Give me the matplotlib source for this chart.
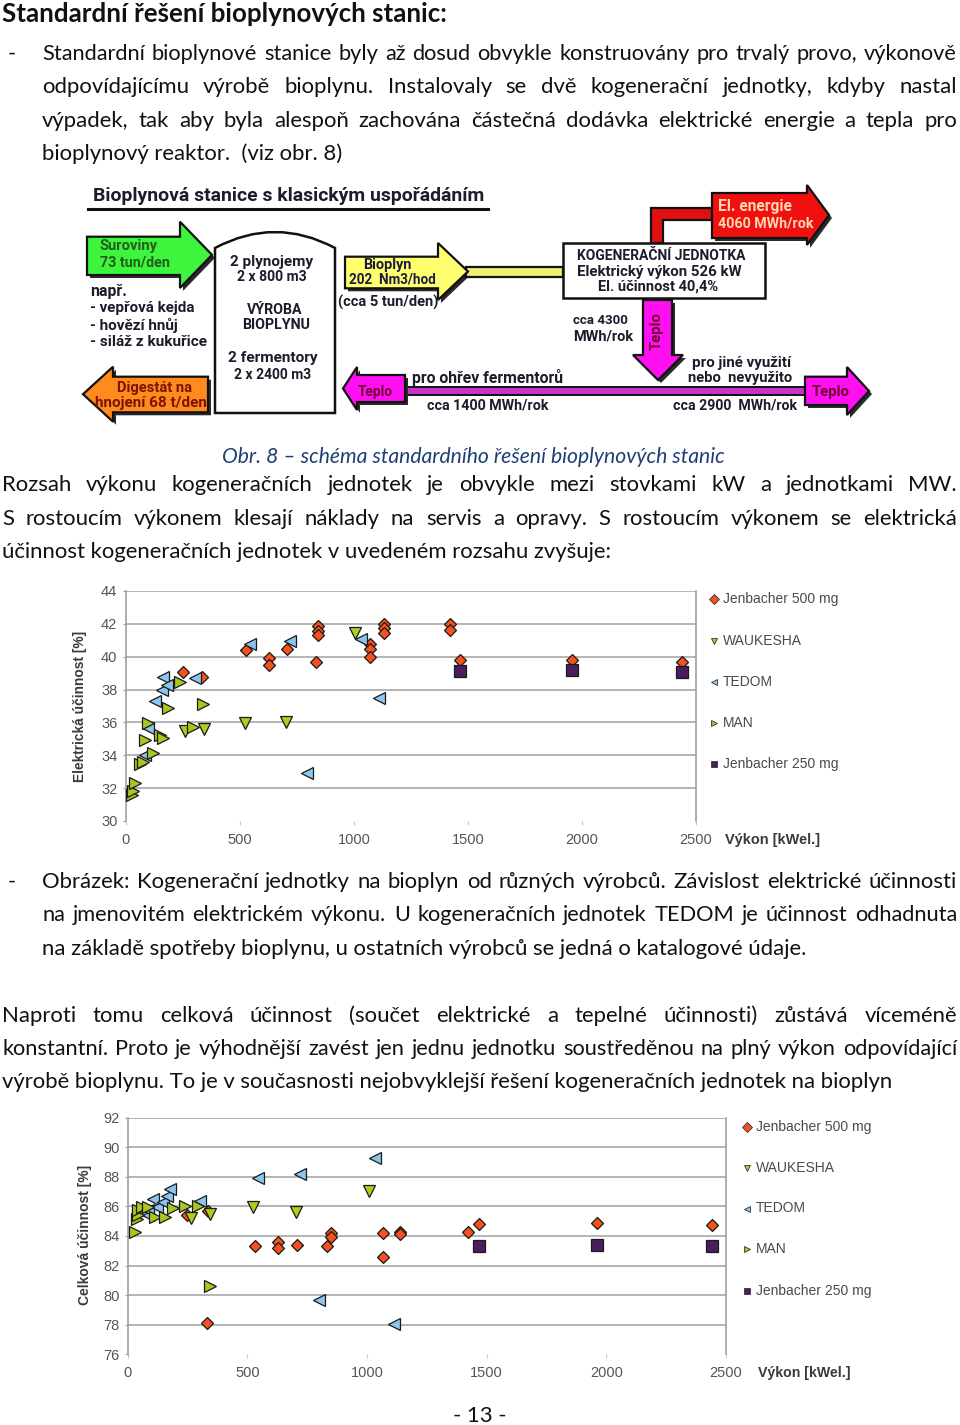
import matplotlib
matplotlib.use('Agg')
import matplotlib.pyplot as plt
from matplotlib.patches import Polygon, Rectangle, PathPatch
from matplotlib.path import Path

# ---- data: electrical efficiency [%] vs. power [kWel] ----
series_names = ['Jenbacher 500 mg', 'WAUKESHA', 'TEDOM', 'MAN', 'Jenbacher 250 mg']

j500_el_kw = [253, 334, 527, 627, 627, 705, 836, 843, 843, 843, 1070, 1070, 1070,
              1133, 1133, 1133, 1420, 1420, 1464, 1955, 2437]
j500_el = [39.1, 38.75, 40.4, 39.95, 39.5, 40.5, 39.7, 41.85, 41.55, 41.3, 40.8, 40.45, 40.0,
           42.0, 41.75, 41.45, 42.0, 41.65, 39.8, 39.8, 39.7]
wauk_el_kw = [259, 342, 522, 702, 1004]
wauk_el = [35.45, 35.6, 35.95, 36.05, 41.45]
tedom_el_kw = [85, 99, 129, 158, 165, 180, 304, 546, 722, 795, 1030, 1110]
tedom_el = [34.0, 35.64, 37.3, 37.97, 38.78, 38.28, 38.69, 40.8, 40.98, 32.9, 41.08, 37.47]
man_el_kw = [26, 33, 41, 63, 77, 85, 99, 121, 151, 165, 187, 239, 297, 341]
man_el = [31.6, 31.8, 32.3, 33.5, 33.6, 34.93, 35.95, 34.12, 35.23, 35.03, 36.9, 38.48, 35.7, 37.1]
j250_el_kw = [1464, 1955, 2437]
j250_el = [39.15, 39.2, 39.05]

# ---- data: total efficiency [%] vs. power [kWel] ----
j500_tot_kw = [247, 331, 334, 530, 628, 628, 708, 833, 849, 849, 1067, 1067, 1139, 1139,
               1423, 1467, 1962, 2441]
j500_tot = [85.4, 78.1, 85.7, 83.3, 83.6, 83.2, 83.4, 83.3, 84.2, 83.95, 84.2, 82.55, 84.3, 84.15,
            84.3, 84.8, 84.85, 84.75]
wauk_tot_kw = [264, 342, 523, 703, 1007]
wauk_tot = [85.2, 85.5, 85.98, 85.6, 87.05]
tedom_tot_kw = [86, 86, 107, 121, 149, 163, 177, 302, 543, 721, 798, 1032, 1111]
tedom_tot = [85.42, 85.76, 86.5, 85.98, 86.32, 86.7, 87.2, 86.4, 87.94, 88.17, 79.67, 89.3, 78.05]
man_tot_kw = [31, 40, 44, 44, 59, 86, 114, 156, 191, 240, 295, 344]
man_tot = [84.25, 85.15, 85.42, 85.76, 85.98, 85.98, 85.3, 85.3, 85.87, 86.05, 86.05, 80.62]
j250_tot_kw = [1467, 1962, 2441]
j250_tot = [83.35, 83.4, 83.35]

x_ticks = [0, 500, 1000, 1500, 2000, 2500]
el_ticks = [30, 32, 34, 36, 38, 40, 42, 44]
tot_ticks = [76, 78, 80, 82, 84, 86, 88, 90, 92]

styles = {
    'Jenbacher 500 mg': dict(marker='D', mfc='#f5501e', ms=6.6),
    'WAUKESHA': dict(marker='v', mfc='#b0cc1c', ms=9),
    'TEDOM': dict(marker='<', mfc='#8cc6ee', ms=9),
    'MAN': dict(marker='>', mfc='#a8c820', ms=9),
    'Jenbacher 250 mg': dict(marker='s', mfc='#4a1e5e', ms=8.5),
}

W, H = 960, 1425
fig = plt.figure(figsize=(W / 100, H / 100), dpi=100)
bg = fig.add_axes([0, 0, 1, 1])
bg.set_xlim(0, W)
bg.set_ylim(H, 0)
bg.axis('off')
renderer = fig.canvas.get_renderer()

BODY_FONT = ['Lato', 'DejaVu Sans']
DIA_FONT = ['Roboto', 'DejaVu Sans']
CH_FONT = ['Liberation Sans', 'DejaVu Sans']


def measure(s, size, **kw):
    t = bg.text(0, 0, s, fontsize=size, **kw)
    w = t.get_window_extent(renderer).width
    t.remove()
    return w


def fit(s, x0, x1, y, ha='left', **kw):
    size = 10 * (x1 - x0) / measure(s, 10, **kw)
    x = {'left': x0, 'center': (x0 + x1) / 2, 'right': x1}[ha]
    bg.text(x, y, s, fontsize=size, ha=ha, va='center', **kw)
    return size


def justify(s, x0, x1, y, size, **kw):
    nat = measure(s, size, **kw)
    if nat > (x1 - x0) * 0.985:
        size = size * (x1 - x0) * 0.985 / nat
    words = s.split()
    ws = [measure(w, size, **kw) for w in words]
    gap = (x1 - x0 - sum(ws)) / (len(words) - 1)
    x = x0
    for w, wd in zip(words, ws):
        bg.text(x, y, w, fontsize=size, va='center', **kw)
        x += wd + gap


# ---------------- body text ----------------
body_kw = dict(family=BODY_FONT, color='#111111')
fit('Standardní řešení bioplynových stanic:', 2, 447, 14, weight='bold', **body_kw)
bsize = 10 * 764 / measure('na základě spotřeby bioplynu, u ostatních výrobců se jedná o katalogové údaje.', 10, **body_kw)

body_lines = [
    ("Standardní bioplynové stanice byly až dosud obvykle konstruovány pro trvalý provo, výkonově", 42, 957, 54, True),
    ("odpovídajícímu výrobě bioplynu. Instalovaly se dvě kogenerační jednotky, kdyby nastal", 42, 957, 87, True),
    ("výpadek, tak aby byla alespoň zachována částečná dodávka elektrické energie a tepla pro", 42, 957, 121, True),
    ("bioplynový reaktor.  (viz obr. 8)", 42, 343, 154, False),
    ("Rozsah výkonu kogeneračních jednotek je obvykle mezi stovkami kW a jednotkami MW.", 2, 957, 485, True),
    ("S rostoucím výkonem klesají náklady na servis a opravy. S rostoucím výkonem se elektrická", 2, 957, 519, True),
    ("účinnost kogeneračních jednotek v uvedeném rozsahu zvyšuje:", 2, 609, 552, False),
    ("Obrázek: Kogenerační jednotky na bioplyn od různých výrobců. Závislost elektrické účinnosti", 42, 957, 882, True),
    ("na jmenovitém elektrickém výkonu. U kogeneračních jednotek TEDOM je účinnost odhadnuta", 42, 957, 915, True),
    ("na základě spotřeby bioplynu, u ostatních výrobců se jedná o katalogové údaje.", 42, 806, 949, False),
    ("Naproti tomu celková účinnost (součet elektrické a tepelné účinnosti) zůstává víceméně", 2, 957, 1016, True),
    ("konstantní. Proto je výhodnější zavést jen jednu jednotku soustředěnou na plný výkon odpovídající", 2, 957, 1049, True),
    ("výrobě bioplynu. To je v současnosti nejobvyklejší řešení kogeneračních jednotek na bioplyn", 2, 890, 1082, False),
]
for s, x0, x1, y, just in body_lines:
    if just:
        justify(s, x0, x1, y, bsize, **body_kw)
    else:
        bg.text(x0, y, s, fontsize=bsize, va='center', **body_kw)
for y in (54, 882):
    bg.text(8, y, '-', fontsize=bsize, va='center', **body_kw)
fit('Obr. 8 – schéma standardního řešení bioplynových stanic', 222, 724, 457,
    style='italic', family=BODY_FONT, color='#1f3f73')
bg.text(480, 1416, '- 13 -', fontsize=bsize, ha='center', va='center', **body_kw)

# ---------------- diagram ----------------
def shape(pts, fc, shadow=True):
    if shadow:
        bg.add_patch(Polygon([(x + 3, y + 3) for x, y in pts], closed=True,
                             fc='#2a2a2a', ec='none', zorder=2))
    bg.add_patch(Polygon(pts, closed=True, fc=fc, ec='#111111', lw=1.6, zorder=3))


def harrow(xb, xh, xt, yb0, yb1, yh0, yh1, fc):
    ym = (yh0 + yh1) / 2
    shape([(xb, yb0), (xh, yb0), (xh, yh0), (xt, ym), (xh, yh1), (xh, yb1), (xb, yb1)], fc)


dk = dict(family=DIA_FONT, weight='bold', zorder=5)
txt = '#1c1c2c'

fit('Bioplynová stanice s klasickým uspořádáním', 93, 485, 196, color=txt, **dk)
bg.plot([88, 488], [209, 209], color='#111111', lw=2.2, zorder=4)

harrow(87, 180, 212, 236.7, 275, 221.7, 288, '#3cf53c')
fit('Suroviny', 100, 158, 245.5, color='#245c1c', **dk)
fit('73 tun/den', 100, 170, 262, color='#245c1c', **dk)
for s, x1, y in [('např.', 127, 291.5), ('- vepřová kejda', 195, 307.5),
                 ('- hovězí hnůj', 178, 325), ('- siláž z kukuřice', 207, 341.5)]:
    fit(s, 90, x1, y, color=txt, **dk)

harrow(208, 113, 83, 376.7, 412.3, 366.7, 421.7, '#ff8a1e')
fit('Digestát na', 117, 193, 388, color='#7a1400', **dk)
fit('hnojení 68 t/den', 95, 207, 403, color='#7a1400', **dk)

# tank
tank = Path([(215, 413), (215, 248), (275, 216), (335, 248), (335, 413), (215, 413)],
            [Path.MOVETO, Path.LINETO, Path.CURVE3, Path.CURVE3, Path.LINETO, Path.CLOSEPOLY])
bg.add_patch(PathPatch(tank, fc='white', ec='#111111', lw=1.8, zorder=3))
for s, x0, x1, y in [('2 plynojemy', 230, 313, 262), ('2 x 800 m3', 237, 307, 277),
                     ('VÝROBA', 247, 302, 310), ('BIOPLYNU', 243, 310, 325),
                     ('2 fermentory', 228, 318, 358), ('2 x 2400 m3', 234, 311, 375)]:
    fit(s, x0, x1, y, ha='center', color=txt, **dk)

harrow(345, 438, 468, 256.7, 288.3, 243, 300, '#ffff70')
fit('Bioplyn', 363, 412, 265, ha='center', color='#1c1c40', **dk)
fit('202  Nm3/hod', 349, 436, 279.5, ha='center', color='#1c1c40', **dk)
fit('(cca 5 tun/den)', 338, 438, 302, color=txt, **dk)
bg.add_patch(Rectangle((466, 266.5), 97, 10, fc='#f0f070', ec='#111111', lw=1.6, zorder=2))

# cogeneration unit
bg.add_patch(Rectangle((563, 243), 202, 54.7, fc='white', ec='#111111', lw=1.8, zorder=3))
fit('KOGENERAČNÍ JEDNOTKA', 577, 745, 255.5, ha='center', color=txt, **dk)
fit('Elektrický výkon 526 kW', 577, 742, 271.5, ha='center', color=txt, **dk)
fit('El. účinnost 40,4%', 598, 718, 286.5, ha='center', color=txt, **dk)

shape([(651, 243), (651, 208), (712, 208), (712, 220), (663, 220), (663, 243)], '#e01010', shadow=False)
harrow(712, 807, 829, 193, 238, 185, 245, '#f01010')
fit('El. energie', 718, 792, 206.5, color='#ffd8b0', **dk)
fit('4060 MWh/rok', 718, 813, 223, color='#ffd8b0', **dk)

# heat
shape([(643, 300), (643, 355), (633, 355), (658, 380), (683, 355), (672, 355), (672, 300)], '#ff10f0')
tsize = 10 * 38 / measure('Teplo', 10, **dk)
bg.text(657, 331, 'Teplo', rotation=90, ha='center', va='center', fontsize=tsize, color='#700030', **dk)
fit('cca 4300', 573, 628, 320, color=txt, **dk)
fit('MWh/rok', 573, 633, 336.5, color=txt, **dk)

bg.add_patch(Rectangle((403, 387), 404, 8, fc='#c832c8', ec='#111111', lw=1.4, zorder=2))
harrow(405, 357, 343, 375, 402, 367, 410, '#ff10f0')
fit('Teplo', 358, 393, 392, color='#700030', **dk)
harrow(805, 847, 869, 376.7, 405, 367, 415, '#ff10f0')
fit('Teplo', 812, 850, 391.5, color='#700030', **dk)
fit('pro ohřev fermentorů', 412, 563, 377.5, color=txt, **dk)
fit('cca 1400 MWh/rok', 427, 548, 405, color=txt, **dk)
fit('pro jiné využití', 692, 792, 362.5, color=txt, **dk)
fit('nebo  nevyužito', 688, 793, 377.5, color=txt, **dk)
fit('cca 2900  MWh/rok', 673, 797, 405, color=txt, **dk)

# ---------------- charts ----------------
tick_size = 10.5
leg_size = 10


def chart(x0, x1, y0, y1, ylim, yticks, data, ylabel, ylab_x, ylab_span, xlab_span, xlab_y,
          leg_x, leg_ys):
    ax = fig.add_axes([x0 / W, 1 - y1 / H, (x1 - x0) / W, (y1 - y0) / H])
    for name in series_names:
        xs, ys = data[name]
        st = styles[name]
        ax.plot(xs, ys, ls='none', marker=st['marker'], ms=st['ms'], mfc=st['mfc'],
                mec='#1a1a1a', mew=0.9, zorder=3, clip_on=False)
    for v in yticks[1:]:
        ax.axhline(v, color='#a8a8a8', lw=1.2, zorder=1)
    ax.set_xlim(0, 2500)
    ax.set_ylim(*ylim)
    ax.set_xticks(x_ticks)
    ax.set_yticks(yticks)
    for sp in ('top', 'bottom'):
        ax.spines[sp].set_visible(False)
    for sp in ('left', 'right'):
        ax.spines[sp].set_color('#a0a0a0')
        ax.spines[sp].set_linewidth(1.2)
    ax.tick_params(axis='x', length=3, color='#c8c8c8', pad=5.5, labelcolor='#555555')
    ax.tick_params(axis='y', length=2.5, color='#a0a0a0', pad=3.5, labelcolor='#555555')
    for lab in ax.get_xticklabels() + ax.get_yticklabels():
        lab.set_family(CH_FONT)
        lab.set_fontsize(tick_size)
    ax.set_facecolor('none')
    # axis titles
    size = 10 * (ylab_span[1] - ylab_span[0]) / measure(ylabel, 10, family=CH_FONT, weight='bold')
    bg.text(ylab_x, sum(ylab_span) / 2, ylabel, rotation=90, ha='center', va='center',
            fontsize=size, family=CH_FONT, weight='bold', color='#3a3a3a')
    fit('Výkon [kWel.]', xlab_span[0], xlab_span[1], xlab_y, family=CH_FONT, weight='bold',
        color='#3a3a3a')
    # legend
    for name, ly in zip(series_names, leg_ys):
        st = styles[name]
        bg.plot([leg_x], [ly], ls='none', marker=st['marker'], ms=5, mfc=st['mfc'],
                mec='#333333', mew=0.6)
        bg.text(leg_x + 9, ly, name, fontsize=leg_size, va='center', family=CH_FONT,
                color='#4a4a4a')
    return ax


el_data = {
    'Jenbacher 500 mg': (j500_el_kw, j500_el),
    'WAUKESHA': (wauk_el_kw, wauk_el),
    'TEDOM': (tedom_el_kw, tedom_el),
    'MAN': (man_el_kw, man_el),
    'Jenbacher 250 mg': (j250_el_kw, j250_el),
}
tot_data = {
    'Jenbacher 500 mg': (j500_tot_kw, j500_tot),
    'WAUKESHA': (wauk_tot_kw, wauk_tot),
    'TEDOM': (tedom_tot_kw, tedom_tot),
    'MAN': (man_tot_kw, man_tot),
    'Jenbacher 250 mg': (j250_tot_kw, j250_tot),
}

chart(125.7, 696, 591, 821, (30, 44), el_ticks, el_data, 'Elektrická účinnost [%]',
      80, (631, 782), (725, 820), 840, 714, [599, 640.5, 681.5, 722.5, 764])
chart(127.7, 726, 1117.7, 1354.3, (76, 92), tot_ticks, tot_data, 'Celková účinnost [%]',
      85, (1165, 1305), (758, 850), 1373.5, 747, [1126.5, 1167.5, 1208.5, 1249, 1290.5])

fig.savefig('out.png', dpi=100)
